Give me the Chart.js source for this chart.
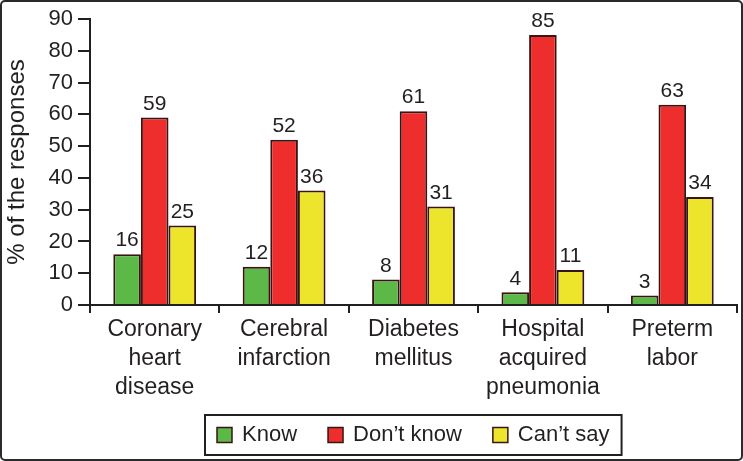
<!DOCTYPE html>
<html>
<head>
<meta charset="utf-8">
<script src="https://cdn.jsdelivr.net/npm/chart.js@4.4.0/dist/chart.umd.min.js"></script>
<style>
  html, body { margin: 0; padding: 0; background: #fff; }
  #wrap { width: 743px; height: 461px; position: relative; }
</style>
</head>
<body>
<div id="wrap"><canvas id="chart"></canvas></div>
<script>
// --- Data ---
const categories = [
    ['Coronary', 'heart', 'disease'],
    ['Cerebral', 'infarction'],
    ['Diabetes', 'mellitus'],
    ['Hospital', 'acquired', 'pneumonia'],
    ['Preterm', 'labor']
];
const seriesNames = ['Know', 'Don\u2019t know', 'Can\u2019t say'];
const knowValues = [16, 12, 8, 4, 3];
const dontKnowValues = [59, 52, 61, 85, 63];
const cantSayValues = [25, 36, 31, 11, 34];
const yTicks = [0, 10, 20, 30, 40, 50, 60, 70, 80, 90];

const FONT = '"Liberation Sans", Arial, sans-serif';
const INK = '#231f20';
const EDGE = '#3a1414';
const fills = ['#5cb947', '#ee2e2d', '#ece52c'];

// --- Plugins ---
const frame = {
    id: 'frame',
    afterDraw(chart) {
        const c = chart.ctx;
        c.save();
        c.strokeStyle = '#2a2a2a';
        c.lineWidth = 2;
        c.beginPath();
        c.roundRect(1, 1, chart.width - 2, chart.height - 2, 4);
        c.stroke();
        c.restore();
    }
};

const valueLabels = {
    id: 'valueLabels',
    afterDatasetsDraw(chart) {
        const c = chart.ctx;
        c.save();
        c.font = '21px ' + FONT;
        c.fillStyle = INK;
        c.textAlign = 'center';
        c.textBaseline = 'bottom';
        chart.data.datasets.forEach((ds, i) => {
            chart.getDatasetMeta(i).data.forEach((bar, j) => {
                c.fillText(ds.data[j], bar.x, bar.y - 3);
            });
        });
        c.restore();
    }
};

const boxedLegend = {
    id: 'boxedLegend',
    afterDraw(chart) {
        const c = chart.ctx;
        const area = chart.chartArea;
        c.save();
        c.font = '22px ' + FONT;
        const sq = 15, gapText = 10, gapItem = 31, padX = 12;
        const widths = chart.data.datasets.map(ds => c.measureText(ds.label).width);
        const total = widths.reduce((a, w) => a + sq + gapText + w, 0) + gapItem * (widths.length - 1);
        const cx = (area.left + area.right) / 2;
        const boxX = Math.round(cx - total / 2 - padX);
        const boxY = 415, boxH = 40;
        c.strokeStyle = INK;
        c.lineWidth = 2;
        c.strokeRect(boxX, boxY, total + padX * 2, boxH);
        let x = boxX + padX;
        const midY = boxY + boxH / 2;
        chart.data.datasets.forEach((ds, i) => {
            c.fillStyle = ds.backgroundColor;
            c.fillRect(x, midY - sq / 2, sq, sq);
            c.strokeStyle = EDGE;
            c.lineWidth = 1.5;
            c.strokeRect(x, midY - sq / 2, sq, sq);
            c.fillStyle = INK;
            c.textAlign = 'left';
            c.textBaseline = 'middle';
            c.fillText(ds.label, x + sq + gapText, midY);
            x += sq + gapText + widths[i] + gapItem;
        });
        c.restore();
    }
};

// --- Chart ---
const makeSet = (label, data, color) => ({
    label,
    data,
    backgroundColor: color,
    borderColor: EDGE,
    borderWidth: 2,
    categoryPercentage: 0.64,
    barPercentage: 1.0
});

new Chart(document.getElementById('chart'), {
    type: 'bar',
    data: {
        labels: categories,
        datasets: [
            makeSet(seriesNames[0], knowValues, fills[0]),
            makeSet(seriesNames[1], dontKnowValues, fills[1]),
            makeSet(seriesNames[2], cantSayValues, fills[2])
        ]
    },
    options: {
        responsive: true,
        maintainAspectRatio: false,
        animation: false,
        layout: { padding: { top: 19, right: 6, bottom: 56, left: 0 } },
        plugins: {
            legend: { display: false },
            tooltip: { enabled: false }
        },
        scales: {
            x: {
                grid: { drawOnChartArea: false, offset: true, color: INK, tickLength: 8, lineWidth: 2 },
                border: { color: INK, width: 2 },
                ticks: { color: INK, font: { family: FONT, size: 23, lineHeight: 1.26 }, padding: 2, maxRotation: 0, autoSkip: false },
                afterFit: s => { s.height = 100; }
            },
            y: {
                min: yTicks[0],
                max: yTicks[yTicks.length - 1],
                afterBuildTicks: s => { s.ticks = yTicks.map(v => ({ value: v })); },
                grid: { drawOnChartArea: false, color: INK, tickLength: 12, lineWidth: 2 },
                border: { color: INK, width: 2 },
                ticks: { color: INK, font: { family: FONT, size: 22 }, padding: 5 },
                title: { display: true, text: '% of the responses', color: INK, font: { family: FONT, size: 24 }, padding: { top: 3, bottom: 0 } },
                afterFit: s => { s.width = 90; }
            }
        }
    },
    plugins: [frame, valueLabels, boxedLegend]
});
</script>
</body>
</html>
